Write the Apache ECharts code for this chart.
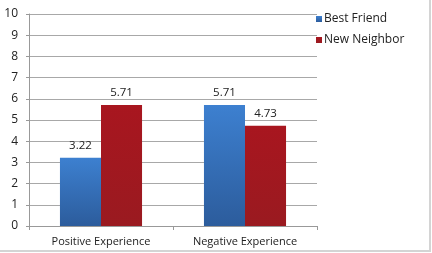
<!DOCTYPE html>
<html>
<head>
<meta charset="utf-8">
<script src="https://cdn.jsdelivr.net/npm/echarts@6/dist/echarts.min.js"></script>
<style>
  html, body { margin: 0; padding: 0; background: #fff; }
  .wrap { position: relative; width: 432px; height: 253px; }
  #chart { width: 432px; height: 253px; }
  .frame { position: absolute; left: 0; top: 0; width: 429px; height: 250px; border-right: 2px solid #d4d4d4; border-bottom: 2px solid #d4d4d4; pointer-events: none; }
</style>
</head>
<body>
<div class="wrap">
  <div id="chart"></div>
  <div class="frame"></div>
</div>
<script>
// categories and values
const categories = ['Positive Experience', 'Negative Experience']
const bestFriend = [3.22, 5.71]
const newNeighbor = [5.71, 4.73]
const yTicks = [0, 10, 1] // min, max, interval

const font = '"Open Sans", "Liberation Sans", sans-serif'

const chart = echarts.init(document.getElementById('chart'))
chart.setOption({
  animation: false,
  textStyle: { fontFamily: font },
  legend: {
    orient: 'vertical',
    left: 311,
    top: 8,
    itemWidth: 6,
    itemHeight: 6,
    itemGap: 9,
    icon: 'rect',
    textStyle: { fontSize: 12, color: '#222', fontFamily: font, padding: [0, 0, 0, -3] },
    data: ['Best Friend', 'New Neighbor']
  },
  grid: { left: 29, right: 115, top: 14, bottom: 27 },
  xAxis: {
    type: 'category',
    data: categories,
    axisLine: { lineStyle: { color: '#999' } },
    axisTick: { show: true, length: 4, lineStyle: { color: '#999' } },
    axisLabel: { fontSize: 11, color: '#222', margin: 10 }
  },
  yAxis: {
    type: 'value',
    min: yTicks[0],
    max: yTicks[1],
    interval: yTicks[2],
    axisLine: { show: true, lineStyle: { color: '#999' } },
    axisTick: { show: true, length: 3, lineStyle: { color: '#999' } },
    axisLabel: { fontSize: 12, color: '#222', margin: 11 },
    splitLine: { lineStyle: { color: '#a8a8a8' } }
  },
  series: [
    {
      name: 'Best Friend',
      type: 'bar',
      data: bestFriend,
      barWidth: '28.5%',
      barGap: '0%',
      itemStyle: {
        color: new echarts.graphic.LinearGradient(0, 0, 0, 1, [
          { offset: 0, color: '#3d80d0' },
          { offset: 1, color: '#2c5c9c' }
        ])
      },
      label: { show: true, position: 'top', fontSize: 11.5, color: '#222', distance: 6, formatter: p => p.value.toFixed(2) }
    },
    {
      name: 'New Neighbor',
      type: 'bar',
      data: newNeighbor,
      barWidth: '28.5%',
      itemStyle: {
        color: new echarts.graphic.LinearGradient(0, 0, 0, 1, [
          { offset: 0, color: '#a8161f' },
          { offset: 1, color: '#9a1a20' }
        ])
      },
      label: { show: true, position: 'top', fontSize: 11.5, color: '#222', distance: 6, formatter: p => p.value.toFixed(2) }
    }
  ]
})
</script>
</body>
</html>
